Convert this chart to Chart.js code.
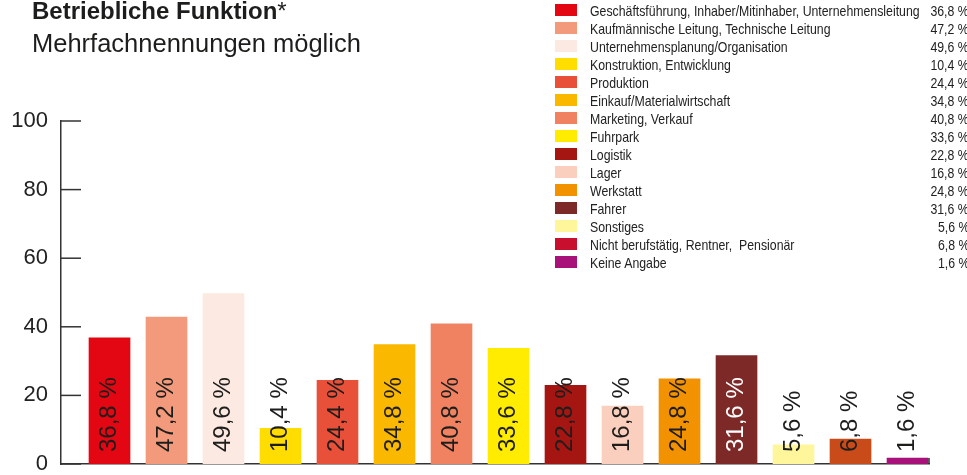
<!DOCTYPE html>
<html>
<head>
<meta charset="utf-8">
<script src="https://cdn.jsdelivr.net/npm/chart.js@4/dist/chart.umd.min.js"></script>
<style>
  html, body { margin: 0; padding: 0; background: #fff; overflow: hidden; }
  #wrap { position: relative; width: 967px; height: 475px; font-family: "Liberation Sans", Arial, sans-serif; color: #1d1d1b; }
  #chart { position: absolute; left: 0; top: 0; }
  .title { position: absolute; left: 32px; top: -1px; font-size: 24px; line-height: 24px; font-weight: bold; white-space: nowrap; }
  .title span { font-weight: normal; }
  .subtitle { position: absolute; left: 32px; top: 31px; font-size: 25.5px; line-height: 25px; white-space: nowrap; }
  .row { position: absolute; left: 0; width: 969px; height: 18px; line-height: 18px; font-size: 15px;
         font-family: "Liberation Sans", Arial, sans-serif; white-space: pre; color: #222; }
  .sw { position: absolute; left: 555px; top: 2px; width: 22px; height: 12px; }
  .lbl { position: absolute; left: 590px; top: 0; transform: scaleX(0.82); transform-origin: left center; }
  .val { position: absolute; right: 0; top: 0; transform: scaleX(0.82); transform-origin: right center; }
</style>
</head>
<body>
<div id="wrap">
  <canvas id="chart" width="967" height="475"></canvas>
  <div class="title">Betriebliche Funktion<span>*</span></div>
  <div class="subtitle">Mehrfachnennungen möglich</div>
  <div id="legend"></div>
</div>
<script>
// categories as listed in the legend
const categories = [
    'Geschäftsführung, Inhaber/Mitinhaber, Unternehmensleitung',
    'Kaufmännische Leitung, Technische Leitung',
    'Unternehmensplanung/Organisation',
    'Konstruktion, Entwicklung',
    'Produktion',
    'Einkauf/Materialwirtschaft',
    'Marketing, Verkauf',
    'Fuhrpark',
    'Logistik',
    'Lager',
    'Werkstatt',
    'Fahrer',
    'Sonstiges',
    'Nicht berufstätig, Rentner,  Pensionär',
    'Keine Angabe'
];
// printed shares (legend and bar labels)
const printedShares = [36.8, 47.2, 49.6, 10.4, 24.4, 34.8, 40.8, 33.6, 22.8, 16.8, 24.8, 31.6, 5.6, 6.8, 1.6];
// bar heights as drawn in the picture
const barHeights = [36.8, 42.8, 49.7, 10.4, 24.4, 34.8, 40.9, 33.7, 22.9, 16.9, 24.8, 31.6, 5.6, 7.3, 1.7];
const yTicks = [0, 20, 40, 60, 80, 100];

const barColors = ['#e30613', '#f39a7d', '#fce9e1', '#ffdd00', '#e8503a', '#fbb800', '#f08262', '#ffec00',
                   '#a51612', '#fbcfbd', '#f39200', '#7d2927', '#fff59b', '#c84b19', '#a8107a'];
const legendColors = ['#e30613', '#f39a7d', '#fce9e1', '#ffdd00', '#e8503a', '#fbb800', '#f08262', '#ffec00',
                      '#a51612', '#fbcfbd', '#f39200', '#7d2927', '#fff59b', '#c8102e', '#a8107a'];
const textColors = barColors.map((c, i) => i === 11 ? '#ffffff' : '#1d1d1b');

function fmt(v) {
    return v.toFixed(1).replace('.', ',') + ' %';
}

// legend
const legend = document.getElementById('legend');
categories.forEach(function(name, i) {
    const row = document.createElement('div');
    row.className = 'row';
    row.style.top = (2 + i * 18) + 'px';
    row.innerHTML = '<div class="sw" style="background:' + legendColors[i] + '"></div>' +
        '<div class="lbl"></div><div class="val"></div>';
    row.querySelector('.lbl').textContent = name;
    row.querySelector('.val').textContent = fmt(printedShares[i]);
    legend.appendChild(row);
});

// tick marks pointing into the plot, and the end mark of the x axis
const inwardTicks = {
    id: 'inwardTicks',
    afterDraw(chart) {
        const { ctx, chartArea, scales } = chart;
        ctx.save();
        ctx.strokeStyle = '#333';
        ctx.lineWidth = 1.5;
        scales.y.ticks.forEach(function(t) {
            const y = scales.y.getPixelForValue(t.value);
            ctx.beginPath();
            ctx.moveTo(chartArea.left, y);
            ctx.lineTo(chartArea.left + 20, y);
            ctx.stroke();
        });
        ctx.beginPath();
        ctx.moveTo(chartArea.right, chartArea.bottom);
        ctx.lineTo(chartArea.right, chartArea.bottom - 6);
        ctx.stroke();
        ctx.restore();
    }
};

// rotated value labels inside the bars
const barLabels = {
    id: 'barLabels',
    afterDatasetsDraw(chart) {
        const ctx = chart.ctx;
        chart.getDatasetMeta(0).data.forEach(function(bar, i) {
            ctx.save();
            ctx.translate(bar.x, bar.base - 12);
            ctx.rotate(-Math.PI / 2);
            ctx.font = '24px "Liberation Sans", Arial, sans-serif';
            ctx.fillStyle = textColors[i];
            ctx.textAlign = 'left';
            ctx.textBaseline = 'middle';
            ctx.fillText(fmt(printedShares[i]), 0, 0);
            ctx.restore();
        });
    }
};

const ctx = document.getElementById('chart').getContext('2d');
const chart = new Chart(ctx, {
    type: 'bar',
    data: {
        datasets: [{
            data: barHeights.map((v, i) => ({ x: i, y: v })),
            backgroundColor: barColors,
            barThickness: 41
        }]
    },
    options: {
        responsive: false,
        animation: false,
        layout: { padding: { top: 121, right: 38, bottom: 11, left: 0 } },
        plugins: { legend: { display: false }, tooltip: { enabled: false } },
        scales: {
            x: {
                type: 'linear',
                offset: false,
                min: -0.851,
                max: 14.377,
                afterFit: s => { s.height = 0; },
                ticks: { display: false },
                grid: { display: false, drawTicks: false },
                border: { display: true, color: '#333', width: 1.5 }
            },
            y: {
                min: 0,
                max: 100,
                afterBuildTicks: s => { s.ticks = yTicks.map(v => ({ value: v })); },
                afterFit: s => { s.width = 61; s.paddingTop = 0; s.paddingBottom = 0; },
                ticks: { padding: 13, color: '#222', font: { size: 22, family: '"Liberation Sans", Arial, sans-serif' } },
                grid: { display: false, drawTicks: false },
                border: { display: true, color: '#333', width: 1.5 }
            }
        }
    },
    plugins: [inwardTicks, barLabels]
});
</script>
</body>
</html>
